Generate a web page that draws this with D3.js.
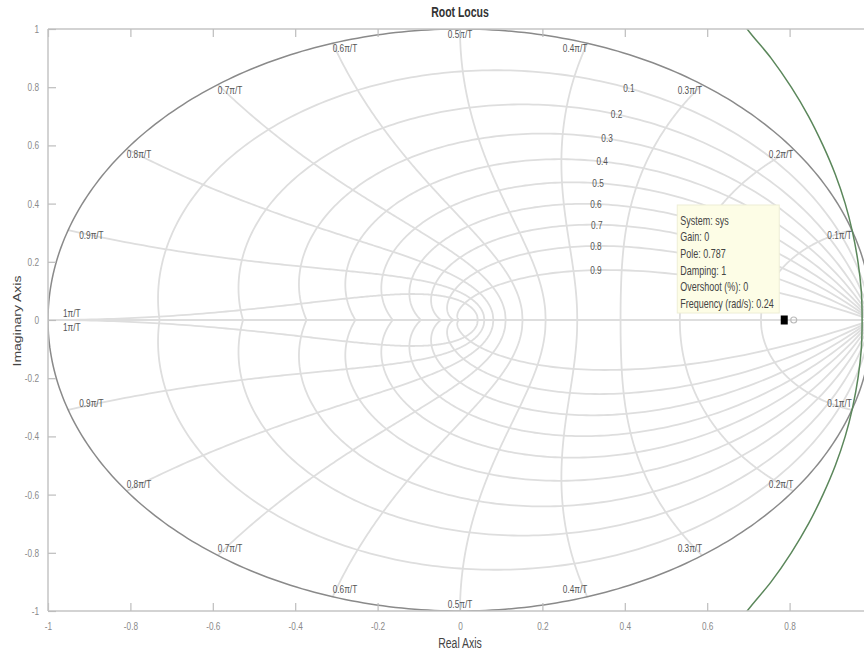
<!DOCTYPE html>
<html lang="en">
<head>
  <meta charset="UTF-8">
  <title>Root Locus</title>
  <script src="https://d3js.org/d3.v7.min.js"></script>
  <style>
    body { margin: 0; background: #fff; }
    text { font-family: "Liberation Sans", Arial, sans-serif; }
    .grid { fill: none; stroke: #dedede; stroke-width: 1.8px; }
    .unit { fill: none; stroke: #8a8a8a; stroke-width: 1.5px; }
    .locus { fill: none; stroke: #5b875b; stroke-width: 1.5px; }
    .glabel { font-size: 11px; fill: #555; }
    .tick text { font-size: 11px; fill: #8a8a8a; }
    .tick line { stroke: #bdbdbd; stroke-width: 1.2px; }
  </style>
</head>
<body>

<svg width="864" height="653"></svg>

<script>
  // axis ticks (the x = 1 tick falls just past the right edge of the picture)
  const xTicks = [-1, -0.8, -0.6, -0.4, -0.2, 0, 0.2, 0.4, 0.6, 0.8];
  const yTicks = [-1, -0.8, -0.6, -0.4, -0.2, 0, 0.2, 0.4, 0.6, 0.8, 1];

  // zgrid values
  const dampingValues = [0.1, 0.2, 0.3, 0.4, 0.5, 0.6, 0.7, 0.8, 0.9];
  const dampLabelRe = [0.41, 0.38, 0.357, 0.345, 0.335, 0.33, 0.332, 0.33, 0.33];
  const freqValues = [0.1, 0.2, 0.3, 0.4, 0.5, 0.6, 0.7, 0.8, 0.9, 1];

  // root locus branch (upper half, mirrored below)
  const locusRe = [0.66, 0.697, 0.755, 0.804, 0.846, 0.881, 0.911, 0.935, 0.953, 0.966, 0.974, 0.976];
  const locusIm = [1.08, 1.0, 0.9, 0.8, 0.7, 0.6, 0.5, 0.4, 0.3, 0.2, 0.1, 0];

  // data tip
  const poleRe = 0.787;
  const tipLines = ["System: sys", "Gain: 0", "Pole: 0.787", "Damping: 1",
                    "Overshoot (%): 0", "Frequency (rad/s): 0.24"];

  const sx = 0.75; // text is narrow in the picture
  const svg = d3.select("svg");
  const x = d3.scaleLinear([-1, 1], [48, 872]);
  const y = d3.scaleLinear([-1, 1], [611, 29]);
  const line = d3.line().x(d => x(d[0])).y(d => y(d[1]));

  svg.append("defs").append("clipPath").attr("id", "clip")
    .append("rect").attr("x", 48).attr("y", 29).attr("width", 824).attr("height", 582);

  const plot = svg.append("g").attr("clip-path", "url(#clip)");

  // damping spirals
  dampingValues.forEach(z => {
    const pts = d3.range(0, Math.PI + 0.001, Math.PI / 200).map(t => {
      const r = Math.exp(-z * t / Math.sqrt(1 - z * z));
      return [r * Math.cos(t), r * Math.sin(t)];
    });
    plot.append("path").attr("class", "grid").attr("d", line(pts));
    plot.append("path").attr("class", "grid").attr("d", line(pts.map(p => [p[0], -p[1]])));
  });

  // natural frequency curves
  freqValues.forEach(k => {
    const w = k * Math.PI;
    const pts = d3.range(0, 1.0001, 0.005).map(z => {
      const r = Math.exp(-z * w), a = w * Math.sqrt(1 - z * z);
      return [r * Math.cos(a), r * Math.sin(a)];
    });
    plot.append("path").attr("class", "grid").attr("d", line(pts));
    plot.append("path").attr("class", "grid").attr("d", line(pts.map(p => [p[0], -p[1]])));
  });

  // real axis (damping 1)
  plot.append("path").attr("class", "grid").attr("d", line([[-1, 0], [1, 0]]));

  // unit circle
  const circ = d3.range(0, 2 * Math.PI + 0.001, Math.PI / 200).map(t => [Math.cos(t), Math.sin(t)]);
  plot.append("path").attr("class", "unit").attr("d", line(circ));

  // locus branch
  const upper = locusRe.map((r, i) => [r, locusIm[i]]);
  const lower = upper.slice().reverse().map(p => [p[0], -p[1]]);
  plot.append("path").attr("class", "locus")
    .attr("d", line.curve(d3.curveCatmullRom)(upper.concat(lower.slice(1))));
  line.curve(d3.curveLinear);

  // helper for narrow text
  function label(px, py, str, anchor, base, cls) {
    return svg.append("text")
      .attr("class", cls || "glabel")
      .attr("transform", `translate(${px},${py}) scale(${sx},1)`)
      .attr("text-anchor", anchor)
      .attr("dominant-baseline", base)
      .text(str);
  }

  // damping labels sit on their spirals
  dampingValues.forEach((z, i) => {
    const c = Math.sqrt(1 - z * z);
    let lo = 0, hi = Math.PI / 2;
    for (let n = 0; n < 40; n++) {
      const m = (lo + hi) / 2;
      const re = Math.exp(-z * m / c) * Math.cos(m);
      if (re > dampLabelRe[i]) lo = m; else hi = m;
    }
    const r = Math.exp(-z * lo / c);
    label(x(r * Math.cos(lo)), y(r * Math.sin(lo)), String(z), "middle", "central");
  });

  // frequency labels at the unit circle
  freqValues.forEach(k => {
    const txt = (k === 1 ? "1" : k) + "\u03c0/T";
    const a = k * Math.PI;
    const anchor = k < 0.5 ? "end" : (k > 0.5 ? "start" : "middle");
    const dx = k >= 0.9 ? (k === 1 ? 15 : 11) : 0;
    const px = x(Math.cos(a)) + dx;
    if (k === 1) {
      label(px, y(0) - 3, txt, anchor, "auto");
      label(px, y(0) + 3, txt, anchor, "hanging");
    } else {
      label(px, y(Math.sin(a)) + 1, txt, anchor, "hanging");
      label(px, y(-Math.sin(a)) - 1, txt, anchor, "text-after-edge");
    }
  });

  // axes
  const fmt = d => String(+d.toFixed(1));
  const gx = svg.append("g").attr("transform", "translate(0,611)")
    .call(d3.axisBottom(x).tickValues(xTicks).tickFormat(fmt).tickSizeInner(-8).tickSizeOuter(0).tickPadding(11));
  gx.selectAll("text").attr("transform", `scale(${sx},1)`);
  const gt = svg.append("g").attr("transform", "translate(0,29)")
    .call(d3.axisTop(x).tickValues(xTicks).tickFormat("").tickSizeInner(-8).tickSizeOuter(0));
  const gy = svg.append("g").attr("transform", "translate(48,0)")
    .call(d3.axisLeft(y).tickValues(yTicks).tickFormat(fmt).tickSizeInner(-8).tickSizeOuter(0).tickPadding(9));
  gy.selectAll("text").attr("transform", `scale(${sx},1)`).attr("x", -9 / sx);
  [gx, gt, gy].forEach(g => g.select(".domain").attr("stroke", "#c4c4c4").attr("stroke-width", 1.5)
    .attr("d", g === gy ? "M0,611V29" : "M48,0H872"));

  // titles
  label(460, 12, "Root Locus", "middle", "central", "title")
    .style("font-size", "14px").style("font-weight", "bold").style("fill", "#333");
  label(460, 643, "Real Axis", "middle", "central", "xlabel")
    .style("font-size", "14px").style("fill", "#444");
  svg.append("text")
    .attr("transform", `translate(18,321) rotate(-90) scale(1,${sx})`)
    .attr("text-anchor", "middle").attr("dominant-baseline", "central")
    .style("font-size", "14px").style("fill", "#444")
    .text("Imaginary Axis");

  // data tip
  const px0 = x(poleRe), py0 = y(0);
  svg.append("rect")
    .attr("x", px0 - 107).attr("y", py0 - 115).attr("width", 102).attr("height", 108)
    .attr("fill", "#fdfde6").attr("stroke", "#eeeed6");
  tipLines.forEach((t, i) => {
    label(px0 - 104, py0 - 100 + i * 16.7, t, "start", "central", "tip")
      .style("font-size", "12px").style("fill", "#444");
  });
  svg.append("circle").attr("cx", x(0.81)).attr("cy", py0).attr("r", 3)
    .attr("fill", "none").attr("stroke", "#bbb").attr("stroke-width", 1.2);
  svg.append("rect").attr("x", px0 - 3.5).attr("y", py0 - 4.5).attr("width", 7).attr("height", 9)
    .attr("fill", "#000");
</script>

</body>
</html>
